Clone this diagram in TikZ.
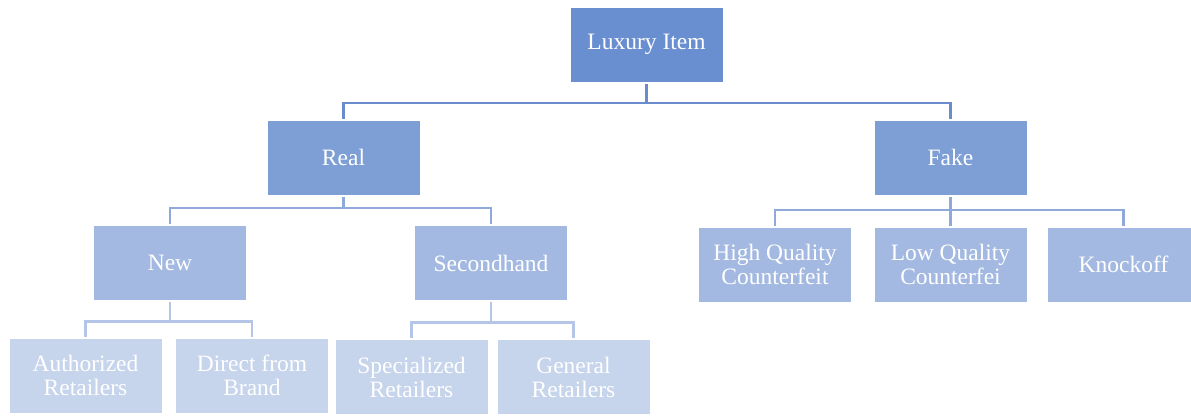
\documentclass[tikz,border=0pt]{standalone}
\usepackage{fontspec}
\setmainfont{Liberation Serif}
\begin{document}
\begin{tikzpicture}[x=1pt,y=-1pt,
  box/.style={rectangle, draw=white, line width=0.6pt, minimum width=153pt, minimum height=75pt,
    inner sep=0pt, outer sep=1.5pt, align=center, text=white,
    font=\fontsize{23.5}{24}\selectfont},
  lvA/.style={box, fill=lvAc},
  lvB/.style={box, fill=lvBc},
  lvC/.style={box, fill=lvCc},
  lvD/.style={box, fill=lvDc},
  conA/.style={draw=conAc, line width=2.6pt},
  conB/.style={draw=conBc, line width=2.4pt},
  conC/.style={draw=conCc, line width=2.4pt}
]
\definecolor{lvAc}{HTML}{6A8FD0}
\definecolor{lvBc}{HTML}{7E9ED6}
\definecolor{lvCc}{HTML}{A3B9E1}
\definecolor{lvDc}{HTML}{C6D4EC}
\definecolor{conAc}{HTML}{6A8CCD}
\definecolor{conBc}{HTML}{8FA9DB}
\definecolor{conCc}{HTML}{B4C5E8}
\useasboundingbox (0,0) rectangle (1191,415);
\begin{scope}
\clip (0,0) rectangle (1191,415);
\node[lvA] (lux) at (646.5,44.5) {Luxury Item};
\node[lvB] (real) at (343.5,157.5) {Real};
\node[lvB] (fake) at (950.5,157.5) {Fake};
\node[lvC] (new) at (170,263) {New};
\node[lvC] (sec) at (491,263) {Secondhand};
\node[lvC] (hq) at (775,264.5) {High Quality\\Counterfeit};
\node[lvC] (lq) at (950.5,264.5) {Low Quality\\Counterfei};
\node[lvC] (ko) at (1123.5,264.5) {Knockoff};
\node[lvD] (auth) at (85.5,375.5) {Authorized\\Retailers};
\node[lvD] (dir) at (252,375.5) {Direct from\\Brand};
\node[lvD] (spec) at (411.5,377) {Specialized\\Retailers};
\node[lvD] (gen) at (573.5,377) {General\\Retailers};

\draw[conA] (lux.south) -- ++(0,19.5) -| (real.north);
\draw[conA] (lux.south) -- ++(0,19.5) -| (fake.north);
\draw[conB] (real.south) -- ++(0,11.5) -| (new.north);
\draw[conB] (real.south) -- ++(0,11.5) -| (sec.north);
\draw[conB] (fake.south) -- ++(0,13.5) -| (hq.north);
\draw[conB] (fake.south) -- ++(0,13.5) -| (lq.north);
\draw[conB] (fake.south) -- ++(0,13.5) -| (ko.north);
\draw[conC] (new.south) -- ++(0,19.5) -| (auth.north);
\draw[conC] (new.south) -- ++(0,19.5) -| (dir.north);
\draw[conC] (sec.south) -- ++(0,20.5) -| (spec.north);
\draw[conC] (sec.south) -- ++(0,20.5) -| (gen.north);
\end{scope}
\end{tikzpicture}
\end{document}
